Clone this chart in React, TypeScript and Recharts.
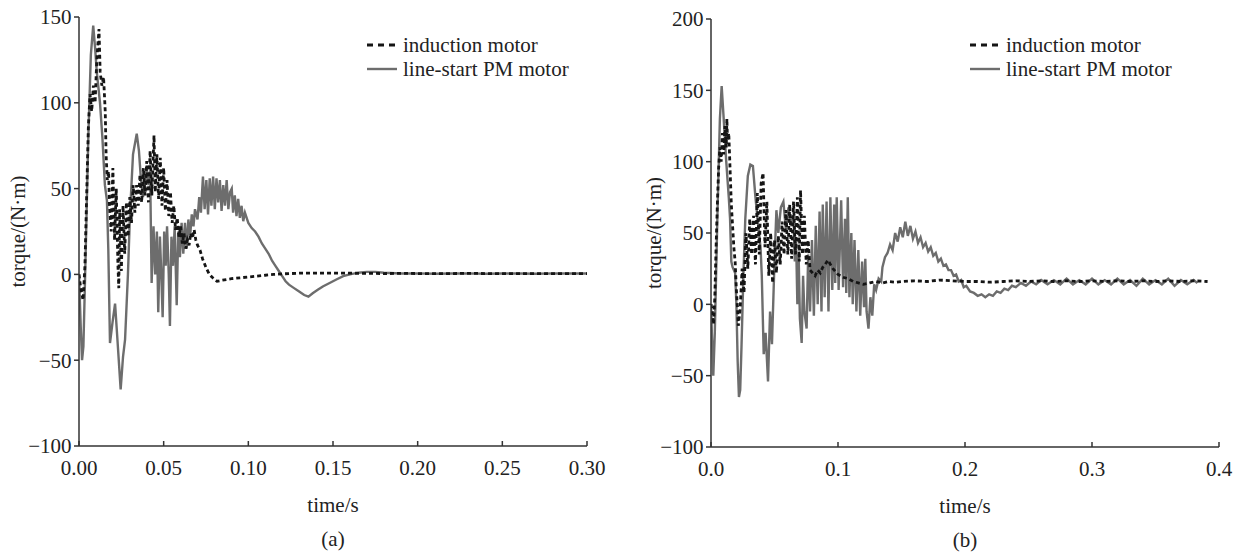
import React from 'react';
import { LineChart, Line, XAxis, YAxis, Legend, Label } from 'recharts';

const FONT = '"Liberation Serif", "Times New Roman", serif';
const FS = 21;
const TEXT = '#222';
const AXIS = '#333';
const IM_COLOR = '#151515';
const PM_COLOR = '#6d6d6d';

// ---------- tick labels ----------
const xTicksA = [0, 0.05, 0.1, 0.15, 0.2, 0.25, 0.3];
const yTicksA = [-100, -50, 0, 50, 100, 150];
const xTicksB = [0, 0.1, 0.2, 0.3, 0.4];
const yTicksB = [-100, -50, 0, 50, 100, 150, 200];

const seriesNames = ['induction motor', 'line-start PM motor'];

// ---------- (a) induction motor: [time s, torque N·m] ----------
const imA: [number, number][] = [
  [0, 0], [0.001, -8], [0.0024, -15], [0.0035, 5], [0.0045, 45], [0.0055, 85], [0.0065, 105], [0.0075, 95],
  [0.0085, 110], [0.0095, 100], [0.0105, 125], [0.0118, 143], [0.0125, 118], [0.0135, 110], [0.0145, 115],
  [0.0155, 95], [0.016, 70], [0.0167, 55], [0.0175, 60], [0.018, 40], [0.019, 25], [0.02, 62], [0.021, 20],
  [0.022, 50], [0.023, 5], [0.0235, -8], [0.024, 38], [0.025, 2], [0.026, 40], [0.027, 12], [0.028, 42],
  [0.029, 22], [0.03, 45], [0.031, 30], [0.032, 52], [0.033, 36], [0.034, 52], [0.035, 40], [0.036, 58],
  [0.037, 42], [0.038, 62], [0.039, 46], [0.04, 66], [0.041, 42], [0.042, 72], [0.043, 46], [0.0443, 81],
  [0.045, 48], [0.046, 70], [0.047, 44], [0.048, 68], [0.049, 40], [0.05, 62], [0.051, 37], [0.052, 55],
  [0.053, 34], [0.054, 48], [0.055, 30], [0.056, 40], [0.057, 26], [0.058, 33], [0.059, 22], [0.06, 28],
  [0.061, 18], [0.062, 24], [0.063, 15], [0.064, 20], [0.065, 17], [0.066, 24], [0.067, 21], [0.068, 26],
  [0.069, 20], [0.07, 17], [0.0715, 14], [0.073, 9], [0.075, 4], [0.077, 0], [0.079, -2], [0.0815, -4],
  [0.084, -3.5], [0.087, -3], [0.09, -2.5], [0.095, -2], [0.1, -1.5], [0.105, -1], [0.11, -0.5], [0.115, 0],
  [0.12, 0.3], [0.125, 0.5], [0.13, 0.7], [0.14, 0.8], [0.15, 0.8], [0.16, 0.7], [0.17, 0.6], [0.18, 0.5],
  [0.19, 0.6], [0.2, 0.5], [0.21, 0.4], [0.22, 0.5], [0.23, 0.6], [0.24, 0.5], [0.25, 0.4], [0.26, 0.5],
  [0.27, 0.5], [0.28, 0.4], [0.29, 0.5], [0.3, 0.5],
];

// ---------- (a) line-start PM motor ----------
const pmA: [number, number][] = [
  [0, 0], [0.001, -30], [0.0018, -50], [0.0026, -42], [0.004, 15], [0.0055, 80], [0.007, 128], [0.0084, 145],
  [0.0095, 132], [0.0105, 118], [0.0124, 100], [0.0138, 80], [0.0153, 52], [0.0165, 43], [0.0173, 15],
  [0.0183, -40], [0.0198, -28], [0.0213, -17], [0.0225, -35], [0.0246, -67], [0.026, -48], [0.0272, -38],
  [0.0289, 0], [0.0301, 35], [0.0319, 70], [0.0341, 82], [0.0354, 72], [0.0366, 55], [0.0378, 45], [0.039, 55],
  [0.04, 62], [0.041, 52], [0.042, 60], [0.0429, -5], [0.044, 28], [0.045, 0], [0.046, 25], [0.0468, -22],
  [0.0478, 22], [0.0486, 0], [0.0494, -25], [0.0503, 25], [0.0512, 5], [0.052, 28], [0.053, 0], [0.0537, -30],
  [0.0546, 22], [0.0555, 5], [0.0565, 28], [0.0577, -18], [0.0586, 25], [0.0596, 10], [0.0606, 30],
  [0.0616, 12], [0.0626, 30], [0.0636, 15], [0.0646, 32], [0.0656, 22], [0.0666, 35], [0.0676, 28],
  [0.0685, 38], [0.07, 32], [0.071, 45], [0.072, 36], [0.0732, 57], [0.0742, 38], [0.0752, 55], [0.0762, 35],
  [0.0772, 56], [0.0782, 40], [0.0792, 57], [0.0802, 38], [0.0812, 56], [0.0822, 42], [0.0832, 55],
  [0.0842, 37], [0.0852, 52], [0.0862, 40], [0.0872, 55], [0.0882, 38], [0.0892, 48], [0.0902, 50],
  [0.091, 36], [0.092, 46], [0.093, 34], [0.094, 44], [0.095, 33], [0.096, 40], [0.097, 31], [0.098, 36],
  [0.1, 30], [0.102, 27], [0.104, 25], [0.106, 22], [0.108, 18], [0.11, 15], [0.112, 12], [0.114, 8],
  [0.116, 5], [0.118, 2], [0.12, -1], [0.122, -4], [0.124, -6], [0.127, -8], [0.13, -10], [0.133, -12],
  [0.1355, -13], [0.138, -11], [0.141, -9], [0.144, -7], [0.148, -5], [0.152, -3], [0.156, -1], [0.16, 0],
  [0.165, 1], [0.17, 1.5], [0.175, 1.5], [0.18, 1], [0.19, 0.5], [0.2, 0.6], [0.21, 0.4], [0.22, 0.5],
  [0.23, 0.6], [0.24, 0.4], [0.25, 0.5], [0.26, 0.5], [0.27, 0.4], [0.28, 0.6], [0.29, 0.5], [0.3, 0.5],
];

// ---------- (b) induction motor ----------
const imB: [number, number][] = [
  [0, 0], [0.001, -5], [0.002, -14], [0.003, 5], [0.004, 40], [0.005, 70], [0.006, 95], [0.007, 110],
  [0.008, 100], [0.009, 120], [0.01, 105], [0.011, 125], [0.012, 110], [0.0125, 130], [0.013, 115],
  [0.014, 120], [0.015, 95], [0.016, 70], [0.017, 55], [0.018, 40], [0.019, 30], [0.02, 10], [0.021, -5],
  [0.0215, -15], [0.023, -3], [0.0245, 25], [0.026, 8], [0.0275, 50], [0.029, 25], [0.0305, 60], [0.032, 35],
  [0.0335, 62], [0.035, 28], [0.0365, 78], [0.038, 35], [0.0395, 85], [0.041, 92], [0.0425, 40], [0.044, 72],
  [0.0455, 20], [0.047, 50], [0.0485, 15], [0.05, 45], [0.0515, 22], [0.053, 48], [0.0545, 28], [0.056, 58],
  [0.0575, 35], [0.059, 66], [0.0605, 35], [0.062, 70], [0.0635, 32], [0.065, 72], [0.0665, 35], [0.068, 75],
  [0.0695, 30], [0.0705, 80], [0.072, 35], [0.0735, 62], [0.075, 28], [0.0765, 45], [0.078, 24], [0.08, 22],
  [0.082, 20], [0.084, 24], [0.086, 22], [0.088, 26], [0.09, 28], [0.092, 31], [0.094, 28], [0.096, 25],
  [0.098, 23], [0.1, 21], [0.104, 19], [0.108, 18], [0.112, 16], [0.116, 15], [0.12, 14], [0.125, 15],
  [0.13, 16], [0.135, 15], [0.14, 16], [0.145, 15.5], [0.15, 16], [0.16, 16.5], [0.17, 16], [0.18, 17],
  [0.19, 16.5], [0.2, 16], [0.21, 16], [0.22, 15.5], [0.23, 16], [0.24, 16.5], [0.25, 16], [0.26, 16.5],
  [0.27, 16], [0.28, 16.5], [0.29, 16], [0.3, 16.5], [0.31, 16], [0.32, 16.5], [0.33, 16], [0.34, 16.5],
  [0.35, 16], [0.36, 16.5], [0.37, 16], [0.38, 16.5], [0.391, 16],
];

// ---------- (b) line-start PM motor ----------
const pmB: [number, number][] = [
  [0, 0], [0.001, -30], [0.0018, -50], [0.003, -20], [0.005, 60], [0.007, 130], [0.0084, 153], [0.01, 130],
  [0.012, 100], [0.014, 75], [0.015, 60], [0.016, 30], [0.017, 26], [0.018, 24], [0.019, 22], [0.02, 0],
  [0.021, -40], [0.022, -65], [0.023, -60], [0.024, -30], [0.0255, 20], [0.027, 60], [0.029, 90], [0.031, 98],
  [0.033, 97], [0.035, 75], [0.0373, 54], [0.039, 40], [0.04, 20], [0.0415, -35], [0.043, -20], [0.0449, -54],
  [0.0465, -5], [0.048, -28], [0.05, 30], [0.0515, 66], [0.053, 50], [0.055, 68], [0.057, 72], [0.059, 52],
  [0.061, 68], [0.063, 55], [0.065, 62], [0.066, 30], [0.067, 45], [0.068, 0], [0.069, 35], [0.07, -10],
  [0.0714, -27], [0.0725, 20], [0.0735, -5], [0.0753, -17], [0.0765, 35], [0.078, -5], [0.0795, 45],
  [0.081, -8], [0.0825, 55], [0.084, 0], [0.0855, 65], [0.087, -5], [0.088, 70], [0.0895, 5], [0.091, 72],
  [0.0925, -5], [0.094, 75], [0.0955, 10], [0.097, 70], [0.0978, 15], [0.099, 75], [0.1005, 10],
  [0.1025, 73], [0.104, 12], [0.1055, 60], [0.1065, 8], [0.1077, 75], [0.109, 5], [0.1105, 50], [0.1116, 0],
  [0.113, 45], [0.1145, -5], [0.116, 38], [0.1175, -8], [0.119, 30], [0.1205, -2], [0.1215, 32],
  [0.1225, -5], [0.124, -17], [0.1255, 5], [0.127, -8], [0.1285, 14], [0.13, 10], [0.132, 18], [0.134, 16],
  [0.135, 26], [0.137, 33], [0.139, 36], [0.141, 42], [0.143, 38], [0.145, 50], [0.147, 44], [0.149, 54],
  [0.151, 47], [0.153, 58], [0.155, 48], [0.157, 55], [0.159, 46], [0.161, 51], [0.163, 43], [0.165, 47],
  [0.167, 40], [0.169, 43], [0.171, 37], [0.173, 40], [0.175, 34], [0.177, 36], [0.179, 30], [0.181, 32],
  [0.183, 27], [0.185, 28], [0.187, 24], [0.189, 24], [0.191, 20], [0.193, 21], [0.195, 16], [0.197, 17],
  [0.199, 12], [0.201, 13], [0.204, 9], [0.207, 8], [0.21, 6], [0.213, 7], [0.216, 5], [0.219, 7],
  [0.222, 6], [0.225, 9], [0.228, 8], [0.231, 11], [0.234, 10], [0.237, 13], [0.24, 12], [0.244, 15],
  [0.248, 13], [0.252, 16], [0.256, 14], [0.26, 17], [0.265, 14], [0.27, 17], [0.275, 14], [0.28, 18],
  [0.285, 14], [0.29, 17], [0.295, 14], [0.3, 18], [0.305, 14], [0.31, 17], [0.315, 14], [0.32, 18],
  [0.325, 14], [0.33, 17], [0.335, 13], [0.34, 18], [0.345, 14], [0.35, 17], [0.355, 14], [0.36, 18],
  [0.365, 13], [0.37, 17], [0.375, 14], [0.38, 17], [0.383, 15],
];

const toRows = (pairs: [number, number][]) => pairs.map(([t, v]) => ({ t, v }));

const fmtY = (v: number) => (v < 0 ? '\u2212' + Math.abs(v) : String(v));

const YTick = (props: any) => {
  const { x, y, payload } = props;
  return (
    <g>
      <line x1={x} y1={y} x2={x - 5} y2={y} stroke={AXIS} strokeWidth={1.5} />
      <text x={x - 7.5} y={y} dy="0.35em" textAnchor="end" fontFamily={FONT} fontSize={FS} fill={TEXT}>
        {fmtY(payload.value)}
      </text>
    </g>
  );
};

const makeXTick = (digits: number) => (props: any) => {
  const { x, y, payload } = props;
  return (
    <g>
      <line x1={x} y1={y} x2={x} y2={y - 5} stroke={AXIS} strokeWidth={1.5} />
      <text x={x} y={y + 29} textAnchor="middle" fontFamily={FONT} fontSize={FS} fill={TEXT}>
        {Number(payload.value).toFixed(digits)}
      </text>
    </g>
  );
};

const renderLegend = () => (
  <div style={{ fontFamily: FONT, fontSize: FS, color: TEXT, lineHeight: '24px', whiteSpace: 'nowrap' }}>
    <div style={{ display: 'flex', alignItems: 'center', height: 24 }}>
      <svg width={36} height={24} style={{ display: 'block' }}>
        <line x1={0} y1={12} x2={30} y2={12} stroke={IM_COLOR} strokeWidth={2.8} strokeDasharray="6 5" />
      </svg>
      <span>{seriesNames[0]}</span>
    </div>
    <div style={{ display: 'flex', alignItems: 'center', height: 24 }}>
      <svg width={36} height={24} style={{ display: 'block' }}>
        <line x1={0} y1={12} x2={30} y2={12} stroke={PM_COLOR} strokeWidth={2.4} />
      </svg>
      <span>{seriesNames[1]}</span>
    </div>
  </div>
);

type PanelProps = {
  width: number;
  marginRight: number;
  marginTop: number;
  plotBottom: number;
  yWidth: number;
  xDomain: [number, number];
  yDomain: [number, number];
  xTicks: number[];
  yTicks: number[];
  xDigits: number;
  im: [number, number][];
  pm: [number, number][];
  tag: string;
  yLabelX: number;
  legendLeft: number;
};

const HEIGHT = 553;
const X_AXIS_H = 60;

const Panel = (p: PanelProps) => {
  const XTick = makeXTick(p.xDigits);
  return (
    <LineChart
      width={p.width}
      height={HEIGHT}
      margin={{ top: p.marginTop, right: p.marginRight, bottom: HEIGHT - p.plotBottom - X_AXIS_H, left: 0 }}
    >
      <XAxis
        type="number"
        dataKey="t"
        domain={p.xDomain}
        ticks={p.xTicks}
        height={X_AXIS_H}
        tickSize={0}
        tickMargin={0}
        tick={XTick}
        interval={0}
        axisLine={{ stroke: AXIS, strokeWidth: 1.5 }}
        allowDataOverflow
      >
        <Label
          content={(lp: any) => {
            const vb = lp.viewBox || {};
            const cx = vb.x + vb.width / 2;
            return (
              <g fontFamily={FONT} fontSize={FS} fill={TEXT}>
                <text x={cx} y={vb.y + 66} textAnchor="middle">time/s</text>
                <text x={cx} y={vb.y + 100} textAnchor="middle">{p.tag}</text>
              </g>
            );
          }}
        />
      </XAxis>
      <YAxis
        type="number"
        domain={p.yDomain}
        ticks={p.yTicks}
        width={p.yWidth}
        tickSize={0}
        tickMargin={0}
        tick={YTick}
        interval={0}
        axisLine={{ stroke: AXIS, strokeWidth: 1.5 }}
        allowDataOverflow
      >
        <Label
          content={(lp: any) => {
            const vb = lp.viewBox || {};
            const cy = vb.y + vb.height / 2;
            return (
              <text
                x={p.yLabelX}
                y={cy}
                transform={`rotate(-90 ${p.yLabelX} ${cy})`}
                textAnchor="middle"
                dy="0.35em"
                fontFamily={FONT}
                fontSize={FS}
                fill={TEXT}
              >
                torque/(N·m)
              </text>
            );
          }}
        />
      </YAxis>
      <Legend
        layout="vertical"
        align="center"
        verticalAlign="middle"
        content={renderLegend}
        wrapperStyle={{ position: 'absolute', left: p.legendLeft, top: 33, width: 260, height: 48 }}
      />
      <Line
        data={toRows(p.pm)}
        dataKey="v"
        name={seriesNames[1]}
        type="linear"
        stroke={PM_COLOR}
        strokeWidth={2.4}
        dot={false}
        activeDot={false}
        isAnimationActive={false}
      />
      <Line
        data={toRows(p.im)}
        dataKey="v"
        name={seriesNames[0]}
        type="linear"
        stroke={IM_COLOR}
        strokeWidth={2.8}
        strokeDasharray="4 3"
        dot={false}
        activeDot={false}
        isAnimationActive={false}
      />
    </LineChart>
  );
};

export default function App() {
  return (
    <div style={{ position: 'absolute', left: 0, top: 0, width: 1238, height: 553, background: '#fff', overflow: 'hidden' }}>
      <div style={{ position: 'absolute', left: 0, top: 0 }}>
        <Panel
          width={620}
          marginRight={33}
          marginTop={17}
          plotBottom={446}
          yWidth={79}
          xDomain={[0, 0.3]}
          yDomain={[-100, 150]}
          xTicks={xTicksA}
          yTicks={yTicksA}
          xDigits={2}
          im={imA}
          pm={pmA}
          tag="(a)"
          yLabelX={18}
          legendLeft={367}
        />
      </div>
      <div style={{ position: 'absolute', left: 630, top: 0 }}>
        <Panel
          width={608}
          marginRight={19}
          marginTop={19}
          plotBottom={447}
          yWidth={81}
          xDomain={[0, 0.4]}
          yDomain={[-100, 200]}
          xTicks={xTicksB}
          yTicks={yTicksB}
          xDigits={1}
          im={imB}
          pm={pmB}
          tag="(b)"
          yLabelX={23.5}
          legendLeft={340}
        />
      </div>
    </div>
  );
}
